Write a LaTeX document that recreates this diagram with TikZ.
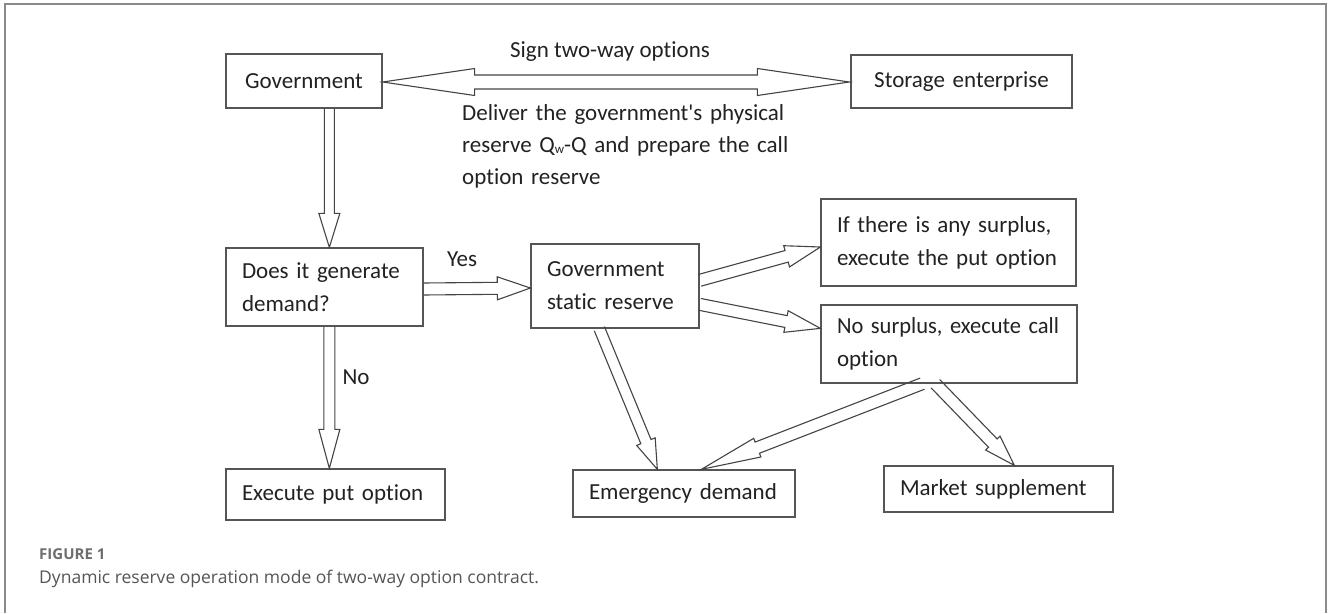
\documentclass[tikz,border=0pt]{standalone}
\usepackage{fontspec}
\setmainfont[Ligatures=NoCommon]{Carlito}
\newfontfamily\capfont[Ligatures=NoCommon]{Open Sans}
\usetikzlibrary{calc}
\definecolor{txt}{HTML}{222222}
\definecolor{boxline}{HTML}{555555}
\definecolor{arrline}{HTML}{444444}
\definecolor{framegray}{HTML}{8A8A8A}
\definecolor{capgray}{HTML}{6E6E6E}
\definecolor{captxt}{HTML}{555555}
\tikzset{
  box/.style={draw=boxline, line width=1.3pt, inner xsep=16pt, inner ysep=0pt,
    align=left, text=txt, font=\fontsize{23}{33}\selectfont},
  cbox/.style={box, align=center},
  arrowline/.style={draw=arrline, line width=1.1pt, line join=miter},
  lbl/.style={text=txt, font=\fontsize{23}{32}\selectfont, inner sep=0pt}
}
% single block arrow: from, to, shaft half width, head half width, head length
\newcommand\barrow[5]{%
  \coordinate (bac) at ($(#2)!#5pt!(#1)$);
  \draw[arrowline] ($(#1)!#3pt!90:(#2)$) -- ($(bac)!#3pt!90:(#2)$) -- ($(bac)!#4pt!90:(#2)$) -- (#2)
    -- ($(bac)!#4pt!-90:(#2)$) -- ($(bac)!#3pt!-90:(#2)$) -- ($(#1)!#3pt!-90:(#2)$);
}
% double block arrow
\newcommand\dbarrow[5]{%
  \coordinate (dca) at ($(#1)!#5pt!(#2)$);
  \coordinate (dcb) at ($(#2)!#5pt!(#1)$);
  \draw[arrowline] (#1) -- ($(dca)!#4pt!90:(#2)$) -- ($(dca)!#3pt!90:(#2)$) -- ($(dcb)!#3pt!-90:(#1)$)
    -- ($(dcb)!#4pt!-90:(#1)$) -- (#2) -- ($(dcb)!#4pt!90:(#1)$) -- ($(dcb)!#3pt!90:(#1)$)
    -- ($(dca)!#3pt!-90:(#2)$) -- ($(dca)!#4pt!-90:(#2)$) -- cycle;
}
\begin{document}
\begin{tikzpicture}[x=1pt,y=-1pt]
\useasboundingbox (0,0) rectangle (1330,613);
\fill[white] (0,0) rectangle (1330,613);
\draw[framegray, line width=1.6pt] (5,613) -- (5,4) -- (1326,4) -- (1326,613);

% boxes
\node[cbox, text width=124pt, minimum height=54pt] (gov) at (304,81) {Government};
\node[cbox, text width=189pt, minimum height=53pt] (store) at (961.5,81.5) {Storage enterprise};
\node[box, text width=165pt, minimum height=78pt] (dem) at (324.5,287)
  {\makebox[163pt][s]{Does it generate}\\demand?};
\node[box, text width=136pt, minimum height=84pt] (gsr) at (615,286)
  {Government\\static reserve};
\node[box, text width=223pt, minimum height=87pt] (ifb) at (948.5,242.5)
  {\makebox[222pt][s]{If there is any surplus,}\\execute the put option};
\node[box, text width=224pt, minimum height=78pt] (nos) at (949,344)
  {\resizebox{222pt}{\height}{No surplus, execute call}\\option};
\node[box, text width=187pt, minimum height=51pt] (put) at (335.5,494.5) {Execute put option};
\node[box, text width=190pt, minimum height=47pt] (emg) at (684,493.5) {Emergency demand};
\node[box, text width=197pt, minimum height=46pt] (mkt) at (998.5,489) {Market supplement};

% labels
\node[lbl] (sign) at (610,52) {Sign two-way options};
\node[lbl, anchor=north west, text width=331pt, align=left] (deliver) at (462,104)
  {\makebox[331pt][s]{Deliver the government\textquotesingle s physical}\\
   \makebox[331pt][s]{reserve Q\raisebox{-1pt}{\fontsize{13}{13}\selectfont w}-Q and prepare the call}\\
   option reserve};
\node[lbl] (yes) at (462,259) {Yes};
\node[lbl] (no) at (356,377) {No};

% connectors
\coordinate (g1) at ($(gov.east)+(0,1)$);
\coordinate (s1) at ($(store.west)+(-1,0.5)$);
\dbarrow{g1}{s1}{7}{13.5}{92}

\coordinate (g2) at ($(gov.south west)+(104,0)$);
\coordinate (d1) at ($(dem.north west)+(104,0)$);
\barrow{g2}{d1}{5}{10.5}{34}

\coordinate (d2) at ($(dem.east)+(0,2)$);
\coordinate (r1) at ($(gsr.west)+(0,2)$);
\barrow{d2}{r1}{6}{11.5}{33}

\coordinate (d3) at ($(dem.south west)+(104,0)$);
\coordinate (p1) at ($(put.north west)+(104,0)$);
\barrow{d3}{p1}{5.5}{10.5}{39}

\coordinate (r2) at ($(gsr.south west)+(69,0)$);
\coordinate (e1) at ($(emg.north west)+(85,0)$);
\barrow{r2}{e1}{5.5}{10}{30}

\coordinate (r3) at ($(gsr.north east)+(0,37)$);
\coordinate (i1) at ($(ifb.west)+(0,4.5)$);
\barrow{r3}{i1}{6}{11}{35}

\coordinate (r4) at ($(gsr.north east)+(0,61)$);
\coordinate (n1) at ($(nos.north west)+(0,24)$);
\barrow{r4}{n1}{6}{11}{35}

\coordinate (n2) at ($(nos.south west)+(102,0)$);
\coordinate (e2) at ($(emg.north west)+(129,0)$);
\barrow{n2}{e2}{6}{10}{60}

\coordinate (n3) at ($(nos.south west)+(115,0)$);
\coordinate (m1) at ($(mkt.north west)+(131,0)$);
\barrow{n3}{m1}{6}{10}{31}

% caption
\node[anchor=base west, inner sep=0pt, text=capgray, font=\capfont\fontsize{15}{15}\selectfont\bfseries] (figlbl) at (39,559) {FIGURE 1};
\node[anchor=base west, inner sep=0pt, text=captxt, font=\capfont\fontsize{17.5}{20}\selectfont] (cap) at (39,583) {Dynamic reserve operation mode of two-way option contract.};
\end{tikzpicture}
\end{document}
